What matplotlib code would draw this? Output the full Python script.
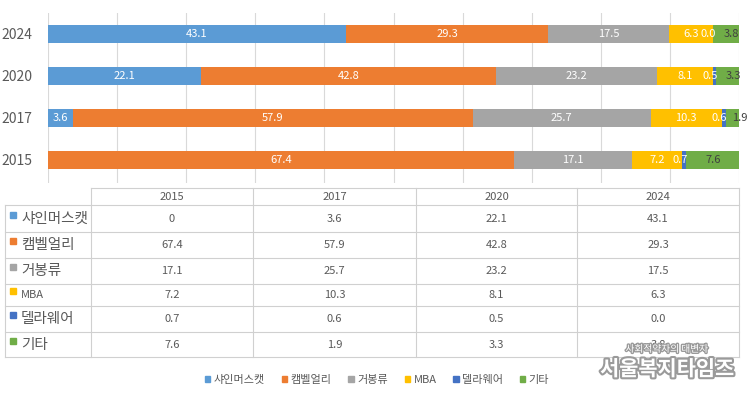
import matplotlib
matplotlib.use("Agg")
import matplotlib.pyplot as plt
import matplotlib.patheffects as pe
from matplotlib.patches import Patch, Rectangle

plt.rcParams['font.family'] = ['Noto Sans CJK KR', 'DejaVu Sans']

years = ['2015', '2017', '2020', '2024']
varieties = ['샤인머스캣', '캠벨얼리', '거봉류', 'MBA', '델라웨어', '기타']
shine = [0, 3.6, 22.1, 43.1]
campbell = [67.4, 57.9, 42.8, 29.3]
kyoho = [17.1, 25.7, 23.2, 17.5]
mba = [7.2, 10.3, 8.1, 6.3]
delaware = [0.7, 0.6, 0.5, 0.0]
etc = [7.6, 1.9, 3.3, 3.8]
shine_labels = ['', '3.6', '22.1', '43.1']  # 2015 has no label on the bar
series = [shine, campbell, kyoho, mba, delaware, etc]
colors = ['#5B9BD5', '#ED7D31', '#A5A5A5', '#FFC000', '#4472C4', '#70AD47']
table_text = [['0', '3.6', '22.1', '43.1'],
              ['67.4', '57.9', '42.8', '29.3'],
              ['17.1', '25.7', '23.2', '17.5'],
              ['7.2', '10.3', '8.1', '6.3'],
              ['0.7', '0.6', '0.5', '0.0'],
              ['7.6', '1.9', '3.3', '3.8']]

W, H = 749, 393
fig = plt.figure(figsize=(W / 100, H / 100), dpi=100)
txt = '#595959'
grid = '#D9D9D9'


def fx(px):
    return px / W


def fy(py):
    return 1 - py / H


# ---- stacked bars
ax = fig.add_axes([fx(48), fy(183), fx(739) - fx(48), fy(13) - fy(183)])
pos = list(range(len(years)))
left = [0] * len(years)
for k, vals in enumerate(series):
    ax.barh(pos, vals, left=left, height=0.42, color=colors[k], zorder=2)
    for i, v in enumerate(vals):
        lab = '%.1f' % v
        if k == 0:
            lab = shine_labels[i]
        if lab == '':
            left[i] += v
            continue
        c = left[i] + v / 2
        dx = 0
        if k == 4:
            dx = -0.6
        if k == 5 and v < 3:
            dx = 1.1
        if k == 5 and 3 <= v < 5:
            dx = 0.8
        col = '#404040' if k == 5 else 'white'
        ax.text(c + dx, i, lab, ha='center', va='center', fontsize=8,
                color=col, zorder=3)
        left[i] += v

ax.set_xlim(0, 100)
ax.set_ylim(-0.55, 3.5)
ax.set_xticks(range(0, 101, 10))
ax.set_xticklabels([])
ax.set_yticks(pos)
ax.set_yticklabels(years, fontsize=10, color=txt)
ax.tick_params(length=0, axis='both')
ax.tick_params(axis='y', pad=11)
ax.grid(axis='x', color=grid, linewidth=0.8, zorder=0)
for s in ax.spines.values():
    s.set_visible(False)

# ---- data table
tb = fig.add_axes([0, 0, 1, 1], zorder=-1)
tb.set_xlim(0, W)
tb.set_ylim(H, 0)
tb.axis('off')
col_edges = [5, 91, 253, 416, 577, 739]
row_edges = [188, 205, 232, 258, 284, 306, 332, 357]
lc = '#D0D0D0'
# header row (no top-left cell border)
tb.plot([col_edges[1], col_edges[-1]], [row_edges[0]] * 2, color=lc, lw=0.8)
for x in col_edges[1:]:
    tb.plot([x, x], [row_edges[0], row_edges[-1]], color=lc, lw=0.8)
tb.plot([col_edges[0]] * 2, [row_edges[1], row_edges[-1]], color=lc, lw=0.8)
for y in row_edges[1:]:
    tb.plot([col_edges[0], col_edges[-1]], [y, y], color=lc, lw=0.8)

for j, yr in enumerate(years):
    cx = (col_edges[j + 1] + col_edges[j + 2]) / 2
    tb.text(cx, (row_edges[0] + row_edges[1]) / 2, yr, ha='center',
            va='center', fontsize=8, color=txt)
for r, name in enumerate(varieties):
    cy = (row_edges[r + 1] + row_edges[r + 2]) / 2
    tb.add_patch(Rectangle((10, cy - 7), 6, 6, color=colors[r]))
    fs = 8 if name == 'MBA' else 10.5
    tb.text(21, cy, name, ha='left', va='center', fontsize=fs, color=txt)
    for j in range(len(years)):
        cx = (col_edges[j + 1] + col_edges[j + 2]) / 2
        tb.text(cx, cy, table_text[r][j], ha='center', va='center',
                fontsize=8, color=txt)

# ---- legend
handles = [Patch(color=c) for c in colors]
fig.legend(handles, varieties, loc='center', bbox_to_anchor=(fx(377), fy(380)),
           ncol=6, frameon=False, fontsize=8, handlelength=0.5,
           handleheight=0.5, handletextpad=0.3, columnspacing=1.5,
           labelcolor=txt)

# ---- watermark
stroke = [pe.withStroke(linewidth=2, foreground='#9A9A9A')]
fig.text(fx(667), fy(349), '사회적약자의 대변자', ha='center', va='center',
         fontsize=7, color='white', path_effects=stroke)
fig.text(fx(667), fy(369), '서울복지타임즈', ha='center', va='center',
         fontsize=15, fontweight='bold', color='white',
         path_effects=[pe.withStroke(linewidth=3, foreground='#9A9A9A')])

fig.savefig('out.png', dpi=100)
